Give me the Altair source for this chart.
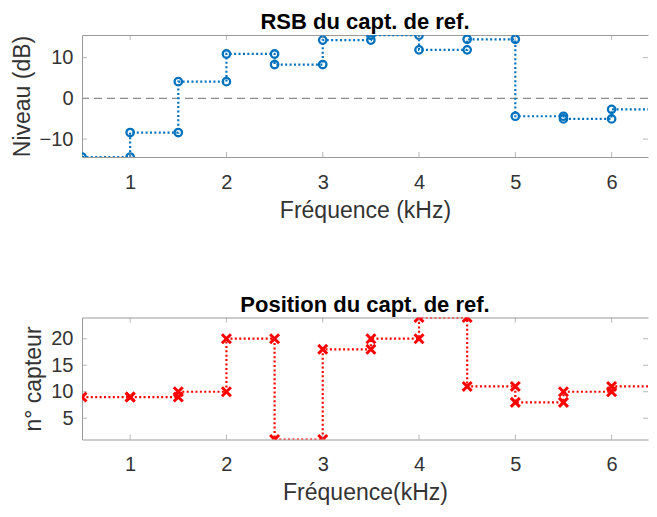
import altair as alt
import pandas as pd

# ---- data ----
freq_edges = [0.5, 1.0, 1.5, 2.0, 2.5, 3.0, 3.5, 4.0, 4.5, 5.0, 5.5, 6.0, 6.5]
rsb_db = [-14.4, -8.4, 4.1, 10.9, 8.3, 14.3, 15.5, 11.9, 14.5, -4.4, -5.05, -2.7]
capteur = [9, 9, 10, 20, 1, 18, 20, 24, 11, 8, 10, 11]
x_ticks = [1, 2, 3, 4, 5, 6]
rsb_ticks = [-10, 0, 10]
pos_ticks = [5, 10, 15, 20]
zero_level = [0]
x_view = [0.5, 6.378]

FONT = "Liberation Sans"
AXIS_COL = "#9a9a9a"
TEXT_COL = "#333333"
W, H = 566, 122


def stairs(edges, vals):
    rows = []
    for i, v in enumerate(vals):
        rows.append({"x": edges[i], "y": v, "k": 2 * i})
        rows.append({"x": edges[i + 1], "y": v, "k": 2 * i + 1})
    return pd.DataFrame(rows)


def panel(vals, ydom, yticks, color, shape, size, sw, ytitle, xtitle, title, zero=False):
    df = stairs(freq_edges, vals)
    xs = alt.Scale(domain=x_view, nice=False, zero=False)
    ys = alt.Scale(domain=ydom, nice=False, zero=False)
    xax = alt.Axis(values=x_ticks, format="d", title=xtitle, ticks=False, domain=True,
                   domainColor=AXIS_COL, domainWidth=1, grid=False,
                   labelFontSize=20, titleFontSize=23, labelPadding=15, titlePadding=7,
                   labelColor=TEXT_COL, titleColor=TEXT_COL, titleFontWeight="normal",
                   labelFont=FONT, titleFont=FONT, orient="bottom")
    xtop = alt.Axis(values=x_ticks, labels=False, ticks=False, domain=True, title=None,
                    domainColor=AXIS_COL, domainWidth=1, grid=False, orient="top")
    yax = alt.Axis(values=yticks, title=ytitle, ticks=False, domain=True,
                   domainColor=AXIS_COL, domainWidth=1, grid=False,
                   labelExpr="replace(datum.label, '-', '\u2212')",
                   labelFontSize=20, titleFontSize=23, labelPadding=9, titlePadding=5,
                   labelColor=TEXT_COL, titleColor=TEXT_COL, titleFontWeight="normal",
                   labelFont=FONT, titleFont=FONT, orient="left")
    Y = alt.Y("y:Q", scale=ys, axis=yax)

    layers = []
    if zero:
        layers.append(
            alt.Chart(pd.DataFrame({"y": zero_level})).mark_rule(
                color="#8c8c8c", strokeDash=[8, 5], strokeWidth=1.2
            ).encode(y=Y)
        )
    layers.append(
        alt.Chart(df).mark_line(color=color, strokeDash=[2, 2.4], strokeWidth=2.2, clip=True)
        .encode(x=alt.X("x:Q", scale=xs, axis=xax), y=Y, order="k:Q")
    )
    layers.append(
        alt.Chart(df).mark_point(shape=shape, filled=False, color=color, size=size,
                                 strokeWidth=sw, opacity=1, clip=True)
        .encode(x=alt.X("x:Q", scale=xs, axis=None), y=Y)
    )
    xt = pd.DataFrame({"x": x_ticks})
    yt = pd.DataFrame({"y": yticks})
    for j, yv in enumerate((0, H)):
        layers.append(alt.Chart(xt).mark_tick(orient="vertical", size=10, thickness=1,
                                              color=AXIS_COL, clip=True)
                      .encode(x=alt.X("x:Q", scale=xs, axis=xtop if j == 0 else None),
                              y=alt.value(yv)))
    for xv in (0, W):
        layers.append(alt.Chart(yt).mark_tick(orient="horizontal", size=10, thickness=1,
                                              color=AXIS_COL, clip=True)
                      .encode(y=Y, x=alt.value(xv)))
    return alt.layer(*layers).resolve_axis(x="independent").properties(
        width=W, height=H,
        title=alt.TitleParams(title, fontSize=22, fontWeight="bold", color="black", font=FONT,
                              offset=1, anchor="middle", frame="group"),
    )


top = panel(rsb_db, [-14.4, 15.55], rsb_ticks, "#0072BD", "circle", 55, 2.3,
            "Niveau (dB)", "Fréquence (kHz)", "RSB du capt. de ref.", zero=True)
bottom = panel(capteur, [1, 24], pos_ticks, "#FF0000", "M-1,-1L1,1M1,-1L-1,1", 80, 3,
               "n° capteur", "Fréquence(kHz)", "Position du capt. de ref.")

chart = alt.vconcat(top, bottom, spacing=71.5).configure(
    padding={"left": 3, "top": 3, "right": 0, "bottom": 0}
).configure_view(stroke=None)

chart.save("out.html", embed_options={"renderer": "svg", "actions": False})
